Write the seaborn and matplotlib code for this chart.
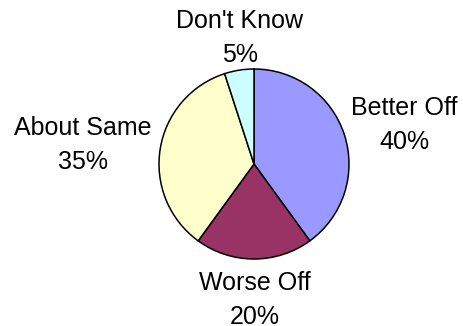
import matplotlib
matplotlib.use("Agg")
import matplotlib.pyplot as plt
import seaborn as sns

categories = ["Better Off", "Worse Off", "About Same", "Don't Know"]
values = [40, 20, 35, 5]
colors = ["#9999FF", "#993366", "#FFFFCC", "#CCFFFF"]

sns.set_theme(style="white")
plt.rcParams['font.family'] = ['Liberation Sans', 'DejaVu Sans']

fig = plt.figure(figsize=(4.63, 3.26), dpi=100)
ax = fig.add_axes([0, 0, 1, 1])

cx, cy, r = 254, 326 - 164, 95
ax.pie(values, colors=colors, startangle=90, counterclock=False,
       center=(cx, cy), radius=r, frame=True,
       wedgeprops=dict(edgecolor="black", linewidth=1.1))
ax.set_xlim(0, 463)
ax.set_ylim(0, 326)
ax.set_aspect('equal')
ax.axis('off')

label_pos = [(404, 326 - 125), (255, 326 - 300), (83, 326 - 145), (240, 326 - 38)]
for cat, v, (x, y) in zip(categories, values, label_pos):
    ax.text(x, y, f"{cat}\n{v}%", ha="center", va="center", fontsize=18,
            color="black", linespacing=1.5)

fig.savefig("out.png", dpi=100, facecolor="white")
